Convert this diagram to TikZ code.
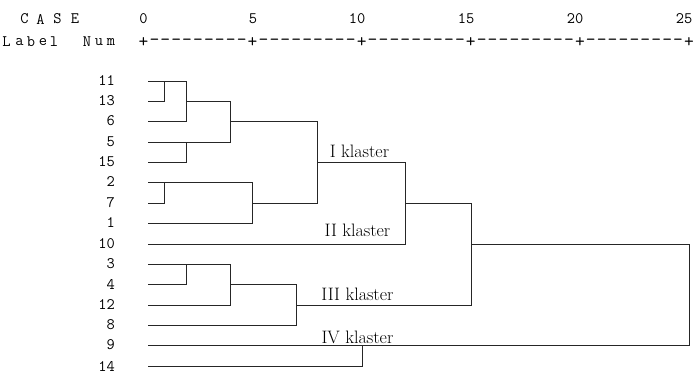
\documentclass[tikz,border=0pt]{standalone}
\usepackage{fontspec}
\begin{document}
\begin{tikzpicture}[x=1pt,y=-1pt,
  mono/.style={inner sep=0pt,font=\ttfamily\fontsize{16}{16}\selectfont},
  axis/.style={inner sep=0pt,font=\ttfamily\fontsize{19}{19}\selectfont},
  leaf/.style={inner sep=0pt,anchor=east,font=\ttfamily\addfontfeature{LetterSpace=10}\fontsize{16}{16}\selectfont},
  tree/.style={line width=1.2pt,draw=black!85},
  clab/.style={inner sep=0pt,anchor=base,font=\fontsize{18}{18}\selectfont}]
\useasboundingbox (0,0) rectangle (694,373);
% header
\foreach \c/\x [count=\k] in {C/24.5,A/40.5,S/57.5,E/75}
  \node[mono] (hc\k) at (\x,19) {\c};
\foreach \c/\x [count=\k] in {L/6.5,a/19.5,b/31,e/43,l/54,N/87,u/99,m/111}
  \node[mono] (hl\k) at (\x,42) {\c};
% scale numbers
\node[mono] (t0) at (143.5,19) {0};
\node[mono] (t5) at (253,19) {5};
\node[mono] (t10) at (357,19) {10};
\node[mono] (t15) at (466,19) {15};
\node[mono] (t20) at (575,19) {20};
\node[mono] (t25) at (684,19) {25};
% axis
\foreach \j in {0,...,50}{
  \pgfmathsetmacro\ax{143.5+\j*10.91}
  \pgfmathtruncatemacro\md{mod(\j,10)}
  \ifnum\md=0
    \node[axis] (a\j) at (\ax,42) {+};
  \else
    \node[axis] (a\j) at (\ax,42) {-};
  \fi
}
% leaves
\foreach \lab [count=\i from 0] in {11,13,6,5,15,2,7,1,10,3,4,12,8,9,14}{
  \pgfmathsetmacro\yy{floor(81+20.38*\i)+0.5}
  \node[leaf] (n\i) at (115,\yy-0.5) {\lab};
  \coordinate (s\i) at (148,\yy);
}
% merge points
\coordinate (o1) at (164.5,0 |- s0);
\coordinate (o2) at (186.5,0 |- s1);
\coordinate (o3) at (186.5,0 |- s3);
\coordinate (o4) at (230.5,0 |- s2);
\coordinate (o5) at (164.5,0 |- s5);
\coordinate (o6) at (252.5,0 |- s6);
\coordinate (o7) at (317.5,0 |- s4);
\coordinate (o8) at (405.5,0 |- s6);
\coordinate (o9) at (186.5,0 |- s9);
\coordinate (o10) at (230.5,0 |- s10);
\coordinate (o11) at (296.5,0 |- s11);
\coordinate (o12) at (471.5,0 |- s8);
\coordinate (o13) at (362.5,0 |- s13);
\coordinate (o14) at (689.5,0 |- s8);
% tree
\draw[tree] (s0) -| (o1) |- (s1);
\draw[tree] (o1) -| (o2) |- (s2);
\draw[tree] (s3) -| (o3) |- (s4);
\draw[tree] (o2) -| (o4) |- (o3);
\draw[tree] (s5) -| (o5) |- (s6);
\draw[tree] (o5) -| (o6) |- (s7);
\draw[tree] (o4) -| (o7) |- (o6);
\draw[tree] (o7) -| (o8) |- (s8);
\draw[tree] (s9) -| (o9) |- (s10);
\draw[tree] (o9) -| (o10) |- (s11);
\draw[tree] (o10) -| (o11) |- (s12);
\draw[tree] (o8) -| (o12) |- (o11);
\draw[tree] (s13) -| (o13) |- (s14);
\draw[tree] (o12) -| (o14) |- (o13);
% cluster labels
\node[clab] (k1) at (359.5,157) {I klaster};
\node[clab] (k2) at (357.5,236) {II klaster};
\node[clab] (k3) at (357.5,300) {III klaster};
\node[clab] (k4) at (357.5,343) {IV klaster};
\end{tikzpicture}
\end{document}
